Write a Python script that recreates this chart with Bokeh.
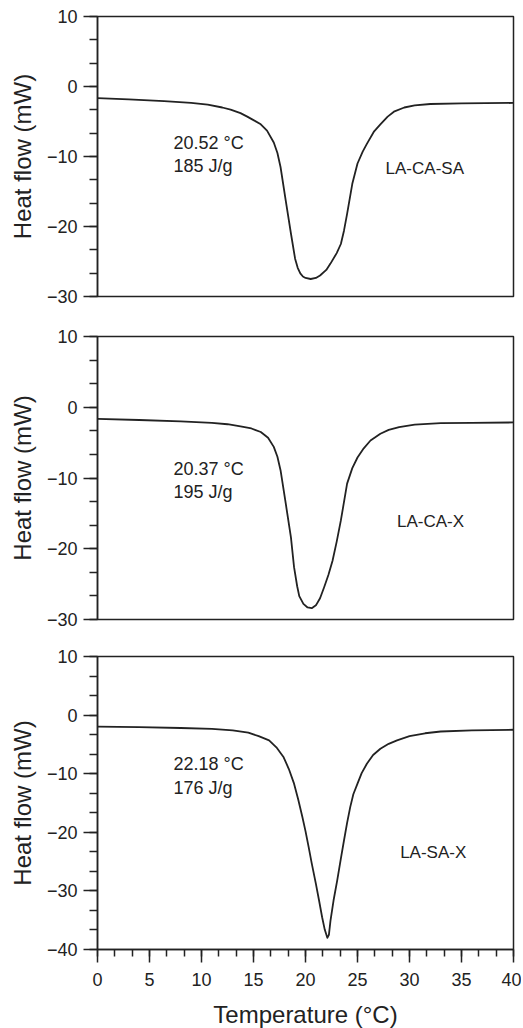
from bokeh.plotting import figure
from bokeh.layouts import column
from bokeh.models import Range1d, SingleIntervalTicker, Label
from bokeh.embed import file_html
from bokeh.resources import INLINE

# ---- data ----
t1 = [0, 3, 6.4, 9, 10.6, 12, 12.8, 13.75, 14.4, 15.0, 15.7, 16.3, 16.95, 17.3, 17.6, 18.1, 18.6,
      19.0, 19.25, 19.5, 19.75, 20.0, 20.5, 21.0, 21.4, 22.0, 22.4, 23.0, 23.4, 23.7, 24.0, 24.5,
      25.0, 25.5, 25.9, 26.6, 27.2, 27.9, 28.5, 29.5, 30.5, 32, 35, 40]
h1 = [-1.65, -1.85, -2.1, -2.35, -2.6, -3.0, -3.3, -3.8, -4.3, -4.8, -5.4, -6.3, -8.0, -9.5,
      -11.5, -16.3, -21.0, -24.6, -25.9, -26.7, -27.15, -27.35, -27.5, -27.35, -27.0, -26.2,
      -25.3, -23.8, -22.5, -20.6, -18.2, -13.9, -11.0, -9.3, -8.2, -6.4, -5.4, -4.3, -3.6,
      -3.0, -2.7, -2.5, -2.4, -2.35]

t2 = [0, 4, 8, 11, 12.5, 13.75, 14.8, 15.7, 16.4, 16.95, 17.3, 17.6, 18.1, 18.6, 18.9, 19.2,
      19.4, 19.8, 20.2, 20.6, 21.0, 21.4, 21.8, 22.2, 22.6, 23.0, 23.4, 24.0, 24.5, 25.0,
      25.6, 26.25, 27.2, 28.0, 29.0, 30.5, 33, 36, 40]
h2 = [-1.65, -1.8, -2.0, -2.2, -2.4, -2.7, -3.0, -3.5, -4.3, -5.6, -7.0, -8.9, -13.6, -18.4,
      -22.6, -25.3, -26.7, -27.8, -28.3, -28.4, -28.0, -27.0, -25.4, -23.7, -21.7, -19.0,
      -16.0, -10.8, -8.6, -7.1, -5.8, -4.7, -3.75, -3.2, -2.8, -2.45, -2.25, -2.2, -2.15]

t3 = [0, 4, 8, 11, 13, 14.5, 15.5, 16.5, 17.2, 17.9, 18.4, 18.9, 19.3, 19.7, 20.0, 20.3, 20.6,
      21.0, 21.3, 21.6, 21.85, 22.1, 22.25, 22.4, 22.7, 23.05, 23.4, 23.7, 24.0, 24.3, 24.6,
      25.0, 25.4, 25.9, 26.5, 27.2, 28.0, 28.8, 30, 31.5, 33, 36, 40]
h3 = [-1.95, -2.05, -2.2, -2.35, -2.6, -3.0, -3.6, -4.3, -5.5, -7.2, -9.2, -11.7, -14.4, -17.4,
      -19.8, -22.5, -25.3, -28.8, -31.6, -34.5, -36.6, -38.0, -37.5, -35.1, -31.6, -28.2,
      -24.5, -21.4, -18.4, -15.7, -13.5, -11.7, -9.9, -8.3, -6.8, -5.75, -4.9, -4.3, -3.6,
      -3.1, -2.8, -2.6, -2.5]

samples = ["LA-CA-SA", "LA-CA-X", "LA-SA-X"]
peak_labels = ["20.52 °C", "20.37 °C", "22.18 °C"]
enthalpy_labels = ["185 J/g", "195 J/g", "176 J/g"]
y_ranges = [(-30, 10), (-30, 10), (-40, 10)]

FONT = "Liberation Sans"
INK = "#222222"
TXT = "#222222"


def panel(t, h, yr, fh, btop, bbot, show_x, peak, enth, name, ann_y, name_xy):
    p = figure(frame_width=416, frame_height=fh,
               x_range=Range1d(0, 40), y_range=Range1d(*yr),
               output_backend="svg", toolbar_location=None,
               min_border_left=97, min_border_right=8,
               min_border_top=btop, min_border_bottom=bbot)
    p.grid.visible = False
    p.outline_line_color = INK
    p.outline_line_width = 1.5
    p.background_fill_color = "white"
    p.border_fill_color = "white"

    ya = p.yaxis[0]
    ya.ticker = SingleIntervalTicker(interval=10, num_minor_ticks=3)
    ya.axis_label = "Heat flow (mW)"
    ya.axis_label_text_font = FONT
    ya.axis_label_text_font_size = "24px"
    ya.axis_label_text_font_style = "normal"
    ya.axis_label_text_color = TXT
    ya.axis_label_standoff = 8
    ya.major_label_text_font = FONT
    ya.major_label_text_font_size = "18px"
    ya.major_label_text_color = TXT
    ya.major_label_standoff = 6
    ya.major_tick_out = 14
    ya.major_tick_in = 0
    ya.minor_tick_out = 8
    ya.minor_tick_in = 0
    ya.axis_line_color = INK
    ya.axis_line_width = 1.5
    ya.major_tick_line_color = INK
    ya.major_tick_line_width = 1.5
    ya.minor_tick_line_color = INK
    ya.minor_tick_line_width = 1.5

    xa = p.xaxis[0]
    if show_x:
        xa.ticker = SingleIntervalTicker(interval=5, num_minor_ticks=3)
        xa.axis_label = "Temperature (°C)"
        xa.axis_label_text_font = FONT
        xa.axis_label_text_font_size = "24px"
        xa.axis_label_text_font_style = "normal"
        xa.axis_label_text_color = TXT
        xa.axis_label_standoff = 12
        xa.major_label_text_font = FONT
        xa.major_label_text_font_size = "18px"
        xa.major_label_text_color = TXT
        xa.major_label_standoff = 10
        xa.major_tick_out = 13
        xa.major_tick_in = 0
        xa.minor_tick_out = 7
        xa.minor_tick_in = 0
        xa.axis_line_color = INK
        xa.axis_line_width = 1.5
        xa.major_tick_line_color = INK
        xa.major_tick_line_width = 1.5
        xa.minor_tick_line_color = INK
        xa.minor_tick_line_width = 1.5
    else:
        xa.visible = False

    p.line(t, h, line_color=INK, line_width=1.8, line_join="round")

    for txt, yy in zip([peak, enth], ann_y):
        p.add_layout(Label(x=7.3, y=yy, text=txt, text_font=FONT, text_font_size="18px",
                           text_color=TXT, text_baseline="middle", text_align="left"))
    p.add_layout(Label(x=name_xy[0], y=name_xy[1], text=name, text_font=FONT,
                       text_font_size="17px", text_color=TXT,
                       text_baseline="middle", text_align="left"))
    return p


p1 = panel(t1, h1, y_ranges[0], 280, 16, 30, False, peak_labels[0], enthalpy_labels[0],
           samples[0], (-8.1, -11.3), (27.7, -11.7))
p2 = panel(t2, h2, y_ranges[1], 283, 10, 27, False, peak_labels[1], enthalpy_labels[1],
           samples[1], (-8.7, -12.0), (28.8, -16.1))
p3 = panel(t3, h3, y_ranges[2], 293, 10, 71, True, peak_labels[2], enthalpy_labels[2],
           samples[2], (-8.3, -12.5), (29.1, -23.4))

layout = column(p1, p2, p3, spacing=0)
open("out.html", "w").write(file_html(layout, INLINE))
